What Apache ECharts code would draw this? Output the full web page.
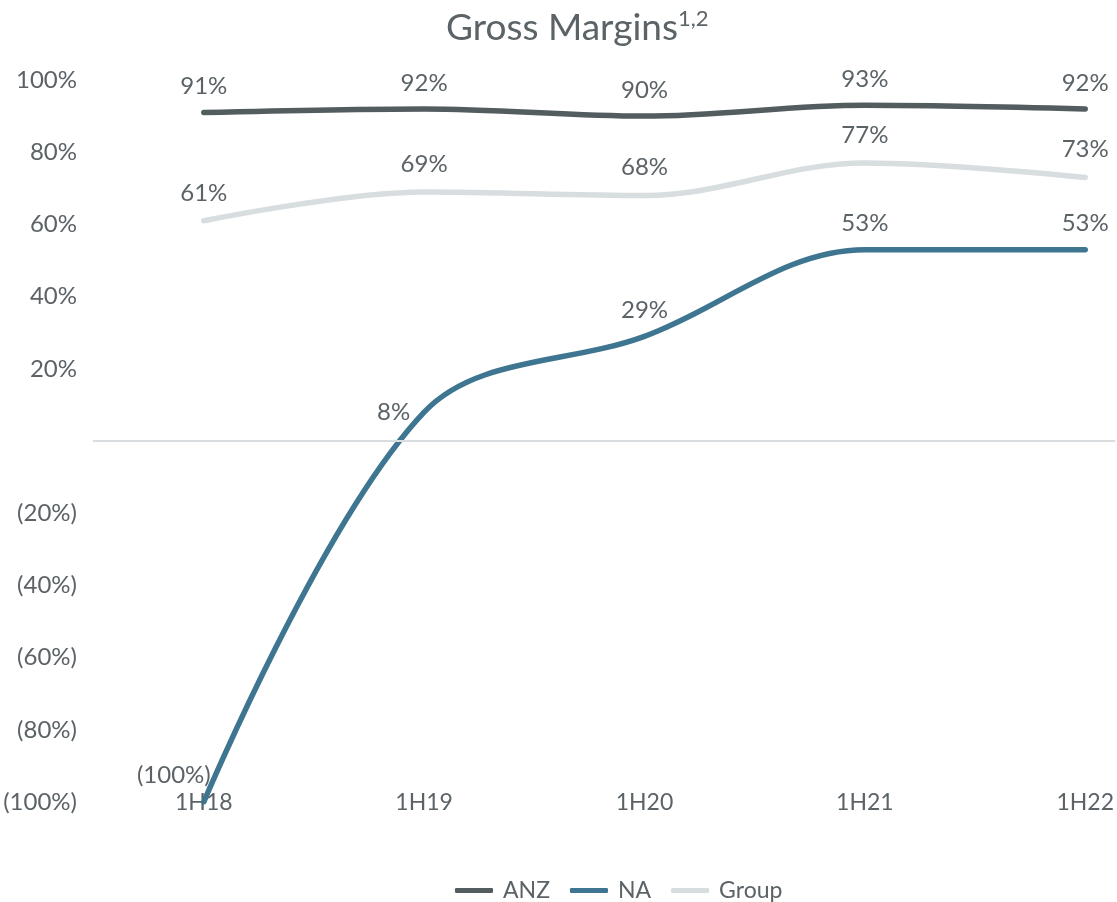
<!DOCTYPE html>
<html>
<head>
<meta charset="utf-8">
<script src="https://cdn.jsdelivr.net/npm/echarts@6/dist/echarts.min.js"></script>
<style>
  html, body { margin: 0; padding: 0; background: #ffffff; }
  #chart { width: 1117px; height: 902px; }
</style>
</head>
<body>
<div id="chart"></div>
<script>
// Half-year periods and gross margin (%) by segment
const periods = ['1H18', '1H19', '1H20', '1H21', '1H22'];
const anz = [91, 92, 90, 93, 92];
const na = [-100, 8, 29, 53, 53];
const group = [61, 69, 68, 77, 73];

const TEXT = '#5b6367';
const FONT = 'Lato';

const pct = v => v < 0 ? '(' + Math.abs(v) + '%)' : v + '%';
const toPoints = arr => arr.map((v, i) => [i, v]);

const labelBase = {
  show: true,
  position: 'top',
  distance: 14,
  color: TEXT,
  fontFamily: FONT,
  fontSize: 24,
  formatter: p => pct(p.value[1])
};

// NA: the first two value labels sit to the left of the line
const naData = na.map((v, i) => {
  if (i === 0) return { value: [i, v], label: { position: 'top', offset: [-30, 0], distance: 15 } };
  if (i === 1) return { value: [i, v], label: { position: 'left', distance: 14 } };
  return [i, v];
});

const lineSeries = (name, color, data, z, extra) => Object.assign({
  name: name,
  type: 'line',
  smooth: 0.35,
  symbol: 'circle',
  symbolSize: 0,
  showSymbol: true,
  data: data,
  itemStyle: { color: color },
  lineStyle: { color: color, width: 5.5, cap: 'round', join: 'round' },
  label: labelBase,
  z: z
}, extra || {});

const chart = echarts.init(document.getElementById('chart'));

chart.setOption({
  backgroundColor: '#ffffff',
  animation: false,
  title: {
    text: 'Gross Margins{sup|1,2}',
    left: 441,
    top: 3,
    textStyle: {
      color: TEXT,
      fontFamily: FONT,
      fontSize: 37,
      fontWeight: 'normal',
      rich: {
        sup: { fontSize: 22, color: TEXT, fontFamily: FONT, verticalAlign: 'top', padding: [0, 0, 18, 0] }
      }
    }
  },
  legend: {
    top: 874,
    left: 450,
    icon: 'roundRect',
    itemWidth: 38,
    itemHeight: 5,
    itemGap: 20,
    textStyle: { color: TEXT, fontFamily: FONT, fontSize: 23, padding: [0, 0, 0, 5] },
    data: ['ANZ', 'NA', 'Group']
  },
  grid: { left: 93, right: 0, top: 80, bottom: 100, containLabel: false },
  xAxis: {
    type: 'value',
    min: -0.5028,
    max: 4.136,
    axisLine: { show: false, onZero: false },
    axisTick: { show: false },
    splitLine: { show: false },
    axisLabel: {
      customValues: [0, 1, 2, 3, 4],
      margin: -11,
      color: TEXT,
      fontFamily: FONT,
      fontSize: 23,
      formatter: v => periods[Math.round(v)]
    }
  },
  yAxis: {
    type: 'value',
    min: -100,
    max: 100,
    interval: 20,
    axisLine: { show: false },
    axisTick: { show: false },
    splitLine: { show: false },
    axisLabel: {
      margin: 16,
      color: TEXT,
      fontFamily: FONT,
      fontSize: 24,
      formatter: v => v === 0 ? '' : pct(v)
    }
  },
  series: [
    lineSeries('Group', '#d8dde0', toPoints(group), 2, {
      label: Object.assign({}, labelBase, { distance: 16 }),
      markLine: {
        silent: true,
        symbol: 'none',
        label: { show: false },
        lineStyle: { color: '#d9dde0', width: 2, type: 'solid' },
        data: [{ yAxis: 0 }]
      }
    }),
    lineSeries('NA', '#3e7590', naData, 3),
    lineSeries('ANZ', '#535c5f', toPoints(anz), 4)
  ]
});
</script>
</body>
</html>
